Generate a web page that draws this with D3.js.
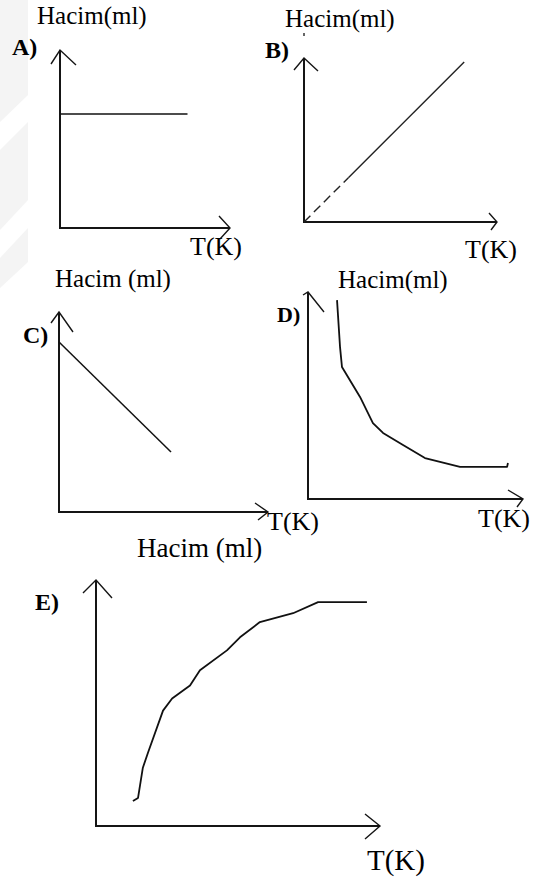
<!DOCTYPE html>
<html lang="en">
<head>
	<meta http-equiv="Content-Type" content="text/html; charset=utf-8">
	<title>Hacim - T(K)</title>
	<script src="https://cdn.jsdelivr.net/npm/d3@7"></script>
	<style>
		body { margin: 0; background: #fff; }
	</style>
</head>
<body>
<svg id="chart" width="533" height="879"></svg>

<script type="text/javascript">

	// data (units 0..10 on both axes of each panel)
	var lineA = [[0, 6.4], [7.5, 6.4]];
	var lineB = [[0, 0], [8.3, 9.75]];
	var dashedUntilB = 2.3;          // first part of B is drawn dashed
	var lineC = [[0, 8.5], [5.36, 3.0]];
	var curveD = [[1.35, 9.61], [1.49, 7.34], [1.58, 6.38], [2.42, 4.93], [3.02, 3.67], [3.49, 3.19],
	              [4.42, 2.61], [5.44, 1.98], [6.14, 1.79], [7.07, 1.55], [9.26, 1.55], [9.30, 1.74]];
	var curveE = [[1.30, 1.02], [1.48, 1.14], [1.65, 2.37], [1.83, 2.98], [2.36, 4.69], [2.68, 5.18],
	              [3.31, 5.71], [3.66, 6.33], [4.61, 7.14], [5.07, 7.67], [5.77, 8.29], [6.94, 8.65],
	              [7.82, 9.10], [9.54, 9.10]];

	var panelNames = ["A)", "B)", "C)", "D)", "E)"];
	var yLabels = ["Hacim(ml)", "Hacim(ml)", "Hacim (ml)", "Hacim(ml)", null];
	var xLabels = ["T(K)", "T(K)", "T(K)", "T(K)", "T(K)"];
	var extraLabel = "Hacim (ml)";   // stray label under panel C

	var serif = "'Liberation Serif', 'Times New Roman', 'DejaVu Serif', serif";

	var svg = d3.select("#chart");

	// faint watermark on the left edge
	var wm = svg.append("g").attr("fill", "#f4f4f4");
	wm.append("path").attr("d", "M0,0 L28,0 L28,95 L0,122 Z");
	wm.append("path").attr("d", "M0,150 L28,122 L28,200 L0,230 Z");
	wm.append("path").attr("d", "M0,258 L28,228 L28,262 L0,288 Z");

	// panel frames: origin of axes and axis lengths in pixels
	var panels = [
		{ ox: 60,  oy: 228, w: 170, h: 178, data: lineA,
		  nameX: 12, nameY: 55, nameSize: 24, yLabX: 37, yLabY: 24, xLabX: 190, xLabY: 255, xLabSize: 26,
		  up: [[-9, 14], [16, 15]], right: [[-11, -12], [-10, 11]] },
		{ ox: 304, oy: 222, w: 193, h: 164, data: lineB,
		  nameX: 265, nameY: 58, nameSize: 24, yLabX: 285, yLabY: 27, xLabX: 465, xLabY: 258, xLabSize: 26,
		  up: [[-10, 12], [14, 13]], right: [[-8, -9], [-6, 8]] },
		{ ox: 59,  oy: 512, w: 209, h: 200, data: lineC,
		  nameX: 23, nameY: 343, nameSize: 24, yLabX: 55, yLabY: 287, xLabX: 267, xLabY: 530, xLabSize: 26,
		  up: [[-8, 11], [14, 20]], right: [[-13, -9], [-10, 8]] },
		{ ox: 308, oy: 499, w: 215, h: 207, data: curveD,
		  nameX: 277, nameY: 322, nameSize: 22, yLabX: 338, yLabY: 288, xLabX: 478, xLabY: 527, xLabSize: 26,
		  up: [[-5, 3], [16, 20]], right: [[-15, -9], [-6, 8]] },
		{ ox: 96,  oy: 826, w: 284, h: 246, data: curveE,
		  nameX: 35, nameY: 610, nameSize: 24, yLabX: 0, yLabY: 0, xLabX: 367, xLabY: 870, xLabSize: 29,
		  up: [[-13, 13], [16, 18]], right: [[-15, -12], [-15, 13]] }
	];

	var draw = function (p, i) {
		var g = svg.append("g");

		var x = d3.scaleLinear().domain([0, 10]).range([p.ox, p.ox + p.w]);
		var y = d3.scaleLinear().domain([0, 10]).range([p.oy, p.oy - p.h]);

		var axisColor = "#151515";
		var x0 = x(0), y0 = y(0), x1 = x(10), y1 = y(10);

		// axes drawn by hand with open arrow heads
		g.append("path")
			.attr("d", "M" + x0 + "," + y1 + " L" + x0 + "," + y0 + " L" + x1 + "," + y0)
			.attr("fill", "none").attr("stroke", axisColor).attr("stroke-width", 2);
		g.append("path")
			.attr("d", "M" + (x0 + p.up[0][0]) + "," + (y1 + p.up[0][1]) + " L" + x0 + "," + y1 +
			           " L" + (x0 + p.up[1][0]) + "," + (y1 + p.up[1][1]))
			.attr("fill", "none").attr("stroke", axisColor).attr("stroke-width", 1.4);
		g.append("path")
			.attr("d", "M" + (x1 + p.right[0][0]) + "," + (y0 + p.right[0][1]) + " L" + x1 + "," + y0 +
			           " L" + (x1 + p.right[1][0]) + "," + (y0 + p.right[1][1]))
			.attr("fill", "none").attr("stroke", axisColor).attr("stroke-width", 1.4);

		var line = d3.line()
			.x(function (d) { return x(d[0]); })
			.y(function (d) { return y(d[1]); });

		if (i === 1) {
			// B: dashed near origin, solid after
			var k = dashedUntilB / lineB[1][0];
			var mid = [dashedUntilB, lineB[1][1] * k];
			g.append("path").datum([lineB[0], mid]).attr("d", line)
				.attr("fill", "none").attr("stroke", "#222").attr("stroke-width", 1.4)
				.attr("stroke-dasharray", "9,5");
			g.append("path").datum([mid, lineB[1]]).attr("d", line)
				.attr("fill", "none").attr("stroke", "#222").attr("stroke-width", 1.4);
		} else {
			g.append("path").datum(p.data).attr("d", line)
				.attr("fill", "none").attr("stroke", "#111")
				.attr("stroke-width", i >= 3 ? 1.8 : 1.5)
				.attr("stroke-linejoin", "round");
		}

		// labels
		g.append("text").attr("x", p.nameX).attr("y", p.nameY)
			.attr("font-family", serif)
			.attr("font-size", p.nameSize).attr("font-weight", "bold")
			.text(panelNames[i]);
		if (yLabels[i]) {
			g.append("text").attr("x", p.yLabX).attr("y", p.yLabY)
				.attr("font-family", serif)
				.attr("font-size", 25).text(yLabels[i]);
		}
		g.append("text").attr("x", p.xLabX).attr("y", p.xLabY)
			.attr("font-family", serif)
			.attr("font-size", p.xLabSize).text(xLabels[i]);
	};

	panels.forEach(draw);

	// small mark above axis B
	svg.append("line").attr("x1", 304).attr("x2", 304).attr("y1", 33).attr("y2", 36)
		.attr("stroke", "#333").attr("stroke-width", 1.5);

	svg.append("text").attr("x", 137).attr("y", 557)
		.attr("font-family", serif)
		.attr("font-size", 27).text(extraLabel);

</script>
</body>
</html>
